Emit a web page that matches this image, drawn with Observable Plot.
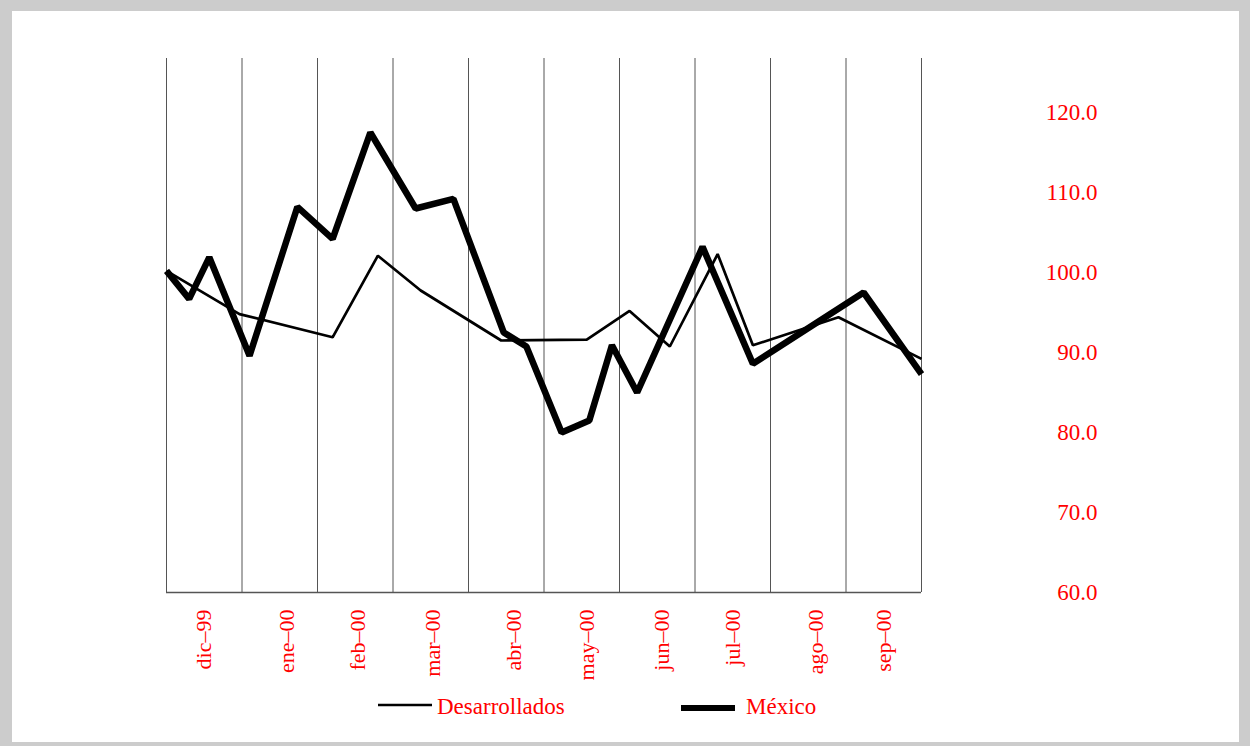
<!DOCTYPE html>
<html>
<head>
<meta charset="utf-8">
<script src="https://cdn.jsdelivr.net/npm/d3@7"></script>
<script src="https://cdn.jsdelivr.net/npm/@observablehq/plot@0.6"></script>
<style>
  html, body { margin: 0; padding: 0; background: #fff; overflow: hidden; }
  #panel { position: relative; width: 1250px; height: 753px; background: #fff; font-family: "Liberation Serif", serif; }
  #panel .border { position: absolute; left: 0; top: 0; width: 1250px; height: 753px; box-sizing: border-box;
                   border: solid #cccccc; border-width: 11px 11px 11px 12px; pointer-events: none; }
  #chart { position: absolute; left: 0; top: 0; }
  #legend { position: absolute; left: 0; top: 680px; }
</style>
</head>
<body>
<div id="panel">
  <div id="chart"></div>
  <div id="legend"></div>
  <div class="border"></div>
</div>
<script>
// Index values (base 100), x measured in days from 1 December 1999
const desarrolladosDays   = [0, 29, 66, 84, 101, 133, 167, 184, 200, 219, 233, 267, 300];
const desarrolladosValues = [100.2, 94.8, 91.9, 102.1, 97.75, 91.5, 91.6, 95.2, 90.75, 102.3, 90.9, 94.4, 89.2];

const mexicoDays   = [0, 9, 17, 33, 52, 66, 81, 99, 114, 134, 143, 157, 168, 177, 187, 213, 233, 277, 300];
const mexicoValues = [100.2, 96.7, 101.9, 89.6, 108.2, 104.2, 117.5, 108.0, 109.2, 92.5, 90.75, 80.0, 81.5, 90.9, 85.0, 103.2, 88.6, 97.5, 87.3];

const monthLabels    = ["dic–99", "ene–00", "feb–00", "mar–00", "abr–00", "may–00", "jun–00", "jul–00", "ago–00", "sep–00"];
const monthLabelDays = [15, 48, 76, 106, 138, 167, 197, 225, 258, 285];
const monthBoundaries = [0, 30, 60, 90, 120, 150, 180, 210, 240, 270, 300];
const yTicks = [60, 70, 80, 90, 100, 110, 120];

const seriesNames = ["Desarrollados", "México"];

const desarrollados = desarrolladosDays.map((day, i) => ({day, value: desarrolladosValues[i]}));
const mexico = mexicoDays.map((day, i) => ({day, value: mexicoValues[i]}));
const labelRows = monthLabelDays.map((day, i) => ({day, label: monthLabels[i]}));

const chart = Plot.plot({
  width: 1250,
  height: 680,
  marginLeft: 166,
  marginRight: 329,
  marginTop: 58,
  marginBottom: 88,
  style: {fontFamily: "'Liberation Serif', serif", fontSize: "23px", background: "transparent"},
  x: {domain: [0, 300], axis: null},
  y: {domain: [60, 126.75]},
  marks: [
    Plot.ruleX(monthBoundaries, {stroke: "#555", strokeWidth: 1}),
    Plot.ruleY([60], {stroke: "#555", strokeWidth: 1.5}),
    Plot.line(desarrollados, {x: "day", y: "value", stroke: "#000", strokeWidth: 2.7,
                              strokeLinejoin: "miter", strokeLinecap: "butt"}),
    Plot.line(mexico, {x: "day", y: "value", stroke: "#000", strokeWidth: 6.5,
                       strokeLinejoin: "miter", strokeLinecap: "butt"}),
    Plot.axisY(yTicks, {anchor: "right", tickSize: 0, tickPadding: 176, textAnchor: "end",
                        tickFormat: d => d.toFixed(1), fill: "red", fontSize: 23, label: null}),
    Plot.text(labelRows, {x: "day", text: "label", frameAnchor: "bottom", rotate: -90,
                          textAnchor: "end", lineAnchor: "middle", dy: 17, fill: "red", fontSize: 22})
  ]
});
document.getElementById("chart").append(chart);

// Legend below the chart
const legend = d3.select("#legend").append("svg")
  .attr("width", 1250).attr("height", 73)
  .style("font-family", "'Liberation Serif', serif");

const legendItems = [
  {name: seriesNames[0], x1: 378, x2: 432, y: 25, width: 2.7, tx: 437},
  {name: seriesNames[1], x1: 681, x2: 735, y: 28, width: 6, tx: 746}
];
const g = legend.selectAll("g").data(legendItems).join("g");
g.append("line")
  .attr("x1", d => d.x1).attr("x2", d => d.x2)
  .attr("y1", d => d.y).attr("y2", d => d.y)
  .attr("stroke", "#000").attr("stroke-width", d => d.width);
g.append("text")
  .attr("x", d => d.tx).attr("y", 34)
  .attr("fill", "red").attr("font-size", 23)
  .text(d => d.name);
</script>
</body>
</html>
